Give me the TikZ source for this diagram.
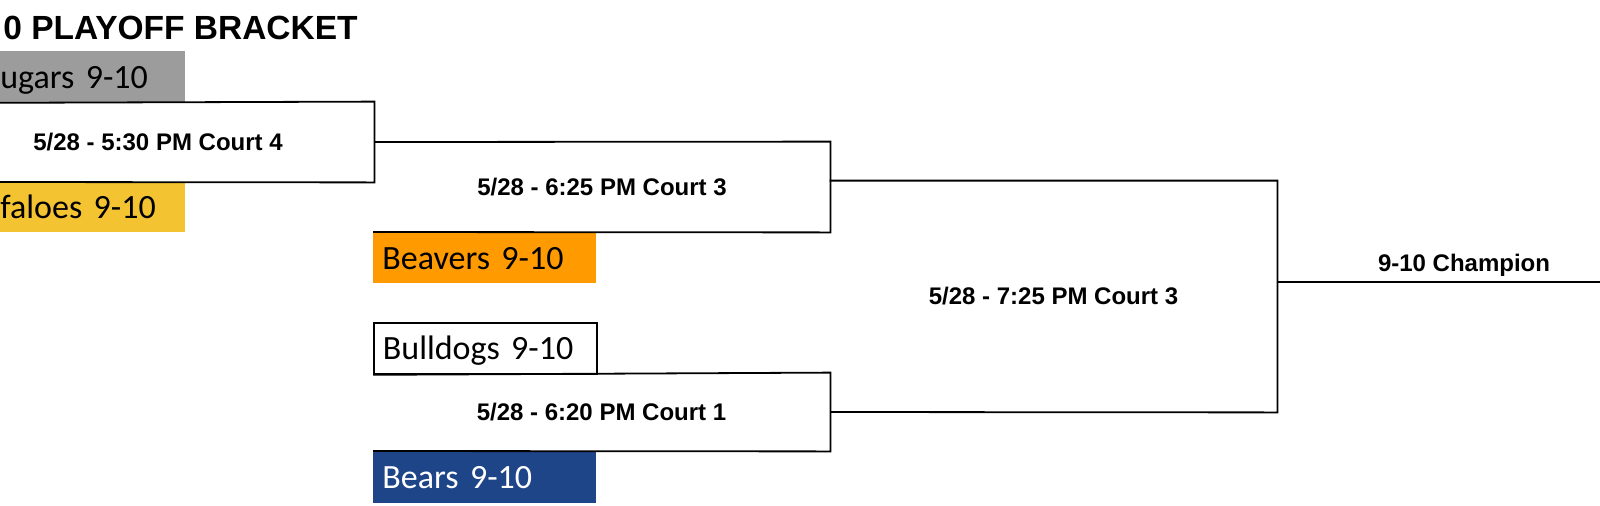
\documentclass[tikz,border=0pt]{standalone}
\usepackage{fontspec}
\setmainfont{Liberation Sans}
\newfontfamily\teamfont[WordSpace=0.7]{Carlito}
\usepackage{xcolor}
\definecolor{cougargray}{HTML}{9C9C9C}
\definecolor{buffyellow}{HTML}{F3C332}
\definecolor{beaverorange}{HTML}{FF9A00}
\definecolor{bearblue}{HTML}{1F4589}

\begin{document}
\begin{tikzpicture}[x=0.5pt,y=-0.5pt,
    teambox/.style={rectangle,anchor=north west,minimum height=25.5pt,inner ysep=0pt,inner xsep=4.5pt,
        text width=102.5pt,align=left,text height=14pt,text depth=2.5pt,
        font=\teamfont\fontsize{17}{19}\selectfont},
    matchbox/.style={rectangle,inner sep=0pt,font=\bfseries\fontsize{12}{14}\selectfont},
    bracket/.style={line width=0.9pt,line join=miter}]
    \useasboundingbox (0,0) rectangle (1600,505);

    % Title
    \node[anchor=base west,inner sep=0pt,font=\bfseries\fontsize{16.75}{20}\selectfont] (title) at (3,39) {0 PLAYOFF BRACKET};

    % Teams
    \node[teambox,fill=cougargray,inner xsep=0pt,text width=92.5pt] (cougars) at (0,51) {ugars 9-10};
    \node[teambox,fill=buffyellow,inner xsep=0pt,text width=92.5pt,minimum height=25pt] (buffaloes) at (0,182) {faloes 9-10};
    \node[teambox,fill=beaverorange] (beavers) at (373,232) {Beavers 9-10};
    \node[teambox,draw,line width=0.9pt] (bulldogs) at (373,322) {Bulldogs 9-10};
    \node[teambox,fill=bearblue,text=white,minimum height=26pt] (bears) at (373,451) {Bears 9-10};

    % Games
    \node[matchbox,minimum width=216pt,minimum height=40pt] (m1) at (158,142) {5/28 - 5:30 PM Court 4};
    \node[matchbox,minimum width=228pt,minimum height=45pt] (m2) at (602,187) {5/28 - 6:25 PM Court 3};
    \node[matchbox,minimum width=228.5pt,minimum height=39pt] (m3) at (601.5,412) {5/28 - 6:20 PM Court 1};
    \node[matchbox,minimum width=223.5pt,minimum height=115.5pt] (fin) at (1053.5,296.5) {5/28 - 7:25 PM Court 3};

    % Champion
    \node[matchbox] (champ) at (1464,265) {9-10 Champion};
    \coordinate (champend) at (1600,282);

    % Bracket lines
    \draw[bracket] (cougars.south west) -- (m1.north east) -- (m1.south east) -- (buffaloes.north west);
    \draw[bracket] (m1.east) -- (m2.north east) -- (m2.south east) -- (beavers.north west);
    \draw[bracket] (bulldogs.south west) -- (m3.north east) -- (m3.south east) -- (bears.north west);
    \draw[bracket] (fin.north west) -- (fin.north east) -- (fin.south east) -- (m3.east);
    \draw[bracket] (fin.east |- champend) -- (champend);
\end{tikzpicture}
\end{document}
